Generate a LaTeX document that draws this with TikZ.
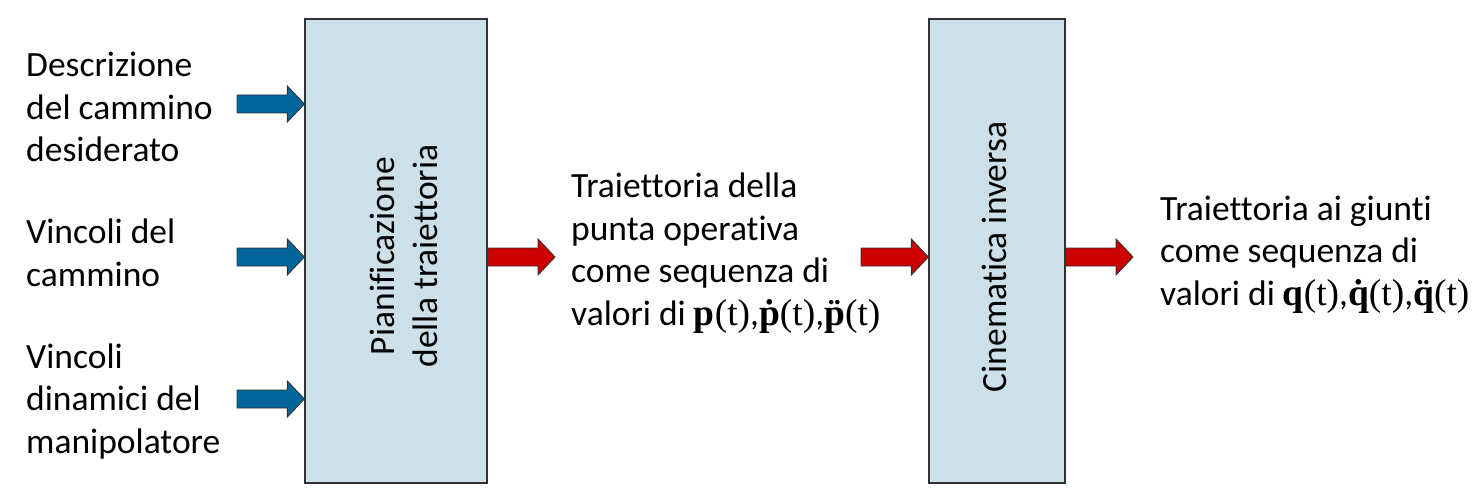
\documentclass[tikz,border=0pt]{standalone}
\usepackage{fontspec}
\setmainfont{Carlito}[Ligatures={NoCommon}]
\newfontfamily\tnr{Liberation Serif}
\usetikzlibrary{calc}
\definecolor{boxfill}{RGB}{205,224,233}
\definecolor{boxline}{RGB}{50,50,50}
\definecolor{arrblue}{RGB}{0,102,153}
\definecolor{arrred}{RGB}{204,0,0}
\tikzset{
  blockbox/.style={draw=boxline, line width=1.3pt, fill=boxfill, inner sep=0pt},
  txt/.style={inner sep=0pt, align=left, font=\fontsize{35.5}{42.5}\selectfont},
  boxtxt/.style={inner sep=0pt, align=center, rotate=90, font=\fontsize{35.5}{42.5}\selectfont},
  bluearr/.style={fill=arrblue, draw=boxline, line width=0.9pt, line join=miter},
  redarr/.style={fill=arrred, draw=boxline, line width=0.9pt, line join=miter},
}
% #1 style, #2 start coordinate, #3 end coordinate (horizontal, same height)
\newcommand\fatarrow[3]{%
  \path let \p1=(#2), \p2=(#3) in [#1]
    (\x1,\y2-9pt) -- (\x2-17pt,\y2-9pt) -- (\x2-17pt,\y2-18pt) -- (\x2,\y2)
    -- (\x2-17pt,\y2+18pt) -- (\x2-17pt,\y2+9pt) -- (\x1,\y2+9pt) -- cycle;}
\newcommand\accb[2]{\ooalign{\textbf{#1}\cr\hidewidth\textbf{\char"#2}\hidewidth\cr}}
\newcommand\mth{\tnr\fontsize{37.5}{42.5}\selectfont}
\newcommand\vp[1]{{\mth\textbf{#1}(t)}}
\newcommand\vpd[1]{{\mth\accb{#1}{02D9}(t)}}
\newcommand\vpdd[1]{{\mth\accb{#1}{A8}(t)}}
\begin{document}
\begin{tikzpicture}[x=1pt,y=-1pt]
\useasboundingbox (0,0) rectangle (1474,497);
% boxes
\node[blockbox, minimum width=182pt, minimum height=464pt] (b1) at (396,251) {};
\node[boxtxt] (b1t) at (404,256) {Pianificazione\\della traiettoria};
\node[blockbox, minimum width=136pt, minimum height=464pt] (b2) at (997,251) {};
\node[boxtxt] (b2t) at (994,257) {Cinematica inversa};
% texts (base = baseline of last line)
\node[txt, anchor=base west] (t1) at (26,162) {Descrizione\\del cammino\\desiderato};
\node[txt, anchor=base west] (t2) at (26,286) {Vincoli del\\cammino};
\node[txt, anchor=base west] (t3) at (26,453) {Vincoli\\dinamici del\\manipolatore};
\node[txt, anchor=base west] (t4) at (571,325) {Traiettoria della\\punta operativa\\come sequenza di\\valori di \vp{p},\vpd{p},\vpdd{p}};
\node[txt, anchor=base west] (t5) at (1160,305) {Traiettoria ai giunti\\come sequenza di\\valori di \vp{q},\vpd{q},\vpdd{q}};
% arrow ends
\coordinate (s1) at (237,104);
\coordinate (s2) at (237,257);
\coordinate (s3) at (237,399);
\coordinate (e1) at (b1.west |- s1);
\coordinate (e2) at (b1.west |- s2);
\coordinate (e3) at (b1.west |- s3);
\coordinate (r1e) at (555,257);
\coordinate (r1s) at (b1.east |- r1e);
\coordinate (r2s) at (861,257);
\coordinate (r2e) at (b2.west |- r2s);
\coordinate (r3e) at (1133,257);
\coordinate (r3s) at (b2.east |- r3e);
\fatarrow{bluearr}{s1}{e1}
\fatarrow{bluearr}{s2}{e2}
\fatarrow{bluearr}{s3}{e3}
\fatarrow{redarr}{r1s}{r1e}
\fatarrow{redarr}{r2s}{r2e}
\fatarrow{redarr}{r3s}{r3e}
\end{tikzpicture}
\end{document}
